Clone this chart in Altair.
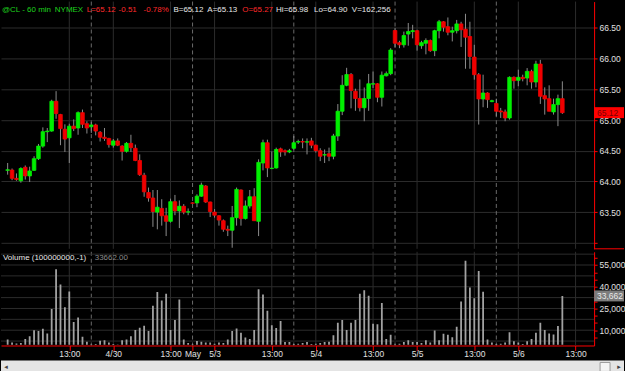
import altair as alt
import pandas as pd

# ---------------- data ----------------
opens = [64.18, 64.185, 64.05, 64.01, 64.23, 64.09, 64.18, 64.37, 64.575, 64.81,
         64.82, 65.305, 65.09, 64.85, 64.71, 64.90, 64.87, 65.12, 64.94, 64.89,
         64.92, 64.80, 64.72, 64.70, 64.59, 64.66, 64.575, 64.49, 64.62, 64.54,
         64.34, 64.10, 63.82, 63.73, 63.50, 63.56, 63.44, 63.35, 63.67, 63.52,
         63.595, 63.50, 63.65, 63.65, 63.76, 63.925, 63.665, 63.50, 63.44, 63.36,
         63.22, 63.205, 63.41, 63.86, 63.395, 63.60, 63.75, 63.35, 64.30, 64.63,
         64.21, 64.22, 64.53, 64.50, 64.48, 64.54, 64.64, 64.65, 64.64, 64.66,
         64.59, 64.50, 64.43, 64.45, 64.41, 64.74, 65.143, 65.565, 65.74, 65.47,
         65.35, 65.20, 65.35, 65.585, 65.59, 65.37, 65.72, 65.755, 66.458, 66.26,
         66.225, 66.40, 66.44, 66.455, 66.21, 66.25, 66.295, 66.13, 66.455, 66.60,
         66.52, 66.43, 66.455, 66.565, 66.479, 66.36, 66.025, 65.738, 65.343, 65.44,
         65.30, 65.27, 65.148, 65.132, 65.034, 65.695, 65.646, 65.695, 65.684, 65.792,
         65.619, 65.911, 65.397, 65.348, 65.132, 65.251, 65.348]
highs = [64.30, 64.21, 64.13, 64.23, 64.26, 64.24, 64.41, 64.61, 64.88, 64.87,
         65.33, 65.47, 65.10, 64.93, 64.94, 65.01, 65.14, 65.17, 64.98, 64.97,
         64.94, 64.82, 64.87, 64.71, 64.69, 64.70, 64.59, 64.64, 64.76, 64.60,
         64.44, 64.14, 63.90, 63.86, 63.86, 63.71, 63.57, 63.72, 63.78, 63.69,
         63.63, 63.56, 63.66, 63.79, 63.98, 63.94, 63.67, 63.55, 63.45, 63.38,
         63.28, 63.60, 63.90, 63.87, 63.69, 63.86, 63.89, 64.36, 64.68, 64.68,
         64.49, 64.55, 64.55, 64.52, 64.53, 64.74, 64.68, 64.70, 64.70, 64.71,
         64.60, 64.54, 64.52, 64.55, 64.775, 65.26, 65.73, 65.85, 65.765, 65.51,
         65.66, 65.53, 65.75, 65.79, 65.60, 65.79, 65.79, 66.17, 66.50, 66.29,
         66.44, 66.58, 66.55, 66.47, 66.29, 66.33, 66.31, 66.47, 66.63, 66.61,
         66.67, 66.52, 66.63, 66.60, 66.73, 66.60, 66.225, 65.765, 65.738, 65.451,
         65.33, 65.348, 65.197, 65.17, 65.71, 65.71, 65.82, 65.738, 65.846, 65.819,
         65.965, 65.98, 65.532, 65.565, 65.348, 65.413, 65.63]
lows = [64.11, 64.02, 64.01, 63.98, 64.03, 63.99, 64.17, 64.35, 64.55, 64.64,
        64.81, 65.02, 64.59, 64.48, 64.30, 64.82, 64.76, 64.87, 64.78, 64.79,
        64.75, 64.65, 64.66, 64.55, 64.55, 64.575, 64.34, 64.47, 64.48, 64.33,
        64.09, 63.75, 63.67, 63.26, 63.22, 63.28, 63.11, 63.33, 63.45, 63.24,
        63.465, 63.45, 63.64, 63.58, 63.75, 63.65, 63.42, 63.41, 63.28, 63.18,
        63.11, 62.92, 63.28, 63.28, 63.38, 63.56, 63.36, 63.11, 64.18, 64.07,
        64.20, 64.21, 64.40, 64.42, 64.46, 64.52, 64.61, 64.54, 64.44, 64.54,
        64.47, 64.33, 64.30, 64.33, 64.36, 64.66, 65.08, 65.55, 65.19, 65.15,
        65.14, 64.98, 65.15, 65.52, 65.29, 65.22, 65.71, 65.73, 66.18, 66.17,
        66.18, 66.21, 66.33, 66.13, 66.16, 66.07, 66.11, 66.04, 66.33, 66.44,
        66.38, 66.28, 66.41, 66.19, 65.835, 65.835, 65.657, 64.926, 65.208, 65.197,
        65.29, 65.061, 65.034, 64.98, 65.007, 65.51, 65.55, 65.63, 65.565, 65.51,
        65.532, 65.262, 65.088, 65.143, 65.088, 64.90, 65.10]
closes = [64.19, 64.05, 64.03, 64.21, 64.09, 64.17, 64.37, 64.575, 64.81, 64.82,
          65.305, 65.105, 64.86, 64.69, 64.90, 64.86, 65.12, 64.93, 64.87, 64.92,
          64.82, 64.72, 64.70, 64.60, 64.66, 64.59, 64.49, 64.62, 64.55, 64.34,
          64.11, 63.83, 63.73, 63.51, 63.58, 63.44, 63.35, 63.67, 63.52, 63.595,
          63.50, 63.505, 63.645, 63.76, 63.94, 63.665, 63.51, 63.45, 63.37, 63.22,
          63.205, 63.41, 63.87, 63.395, 63.60, 63.75, 63.36, 64.31, 64.63, 64.22,
          64.215, 64.52, 64.48, 64.48, 64.50, 64.63, 64.65, 64.64, 64.645, 64.59,
          64.50, 64.41, 64.435, 64.41, 64.74, 65.143, 65.565, 65.74, 65.48, 65.35,
          65.20, 65.35, 65.59, 65.59, 65.37, 65.73, 65.755, 66.14, 66.25, 66.225,
          66.375, 66.44, 66.455, 66.225, 66.26, 66.295, 66.13, 66.455, 66.60, 66.51,
          66.43, 66.455, 66.565, 66.47, 66.349, 66.035, 65.738, 65.343, 65.44, 65.332,
          65.315, 65.143, 65.132, 65.034, 65.695, 65.64, 65.695, 65.673, 65.792, 65.619,
          65.911, 65.386, 65.343, 65.143, 65.251, 65.348, 65.12]
volumes = [3500, 1600, 900, 1200, 4000, 5900, 10000, 9400, 11000, 7700,
           24600, 52000, 41500, 25800, 36800, 15700, 18800, 5400, 2100, 300,
           500, 2800, 3000, 1600, 500, 200, 3000, 3500, 5900, 10100,
           11700, 13100, 9400, 26900, 36300, 30500, 35200, 10100, 17100, 31200,
           3500, 1200, 300, 2600, 2100, 1600, 1600, 700, 1600, 1200,
           3500, 9400, 11200, 8200, 4900, 4000, 10100, 38200, 34700, 23400,
           13400, 11500, 16400, 1900, 1900, 500, 700, 1200, 1900, 500,
           700, 1200, 1900, 2100, 6600, 15200, 17100, 10100, 15200, 17100,
           35200, 37500, 33800, 14500, 14100, 28800, 4000, 6800, 300, 700,
           1900, 3000, 1900, 1900, 1200, 3000, 1600, 9800, 3000, 7500,
           6800, 5200, 12400, 29800, 57900, 39400, 32100, 50800, 36600, 3500,
           1600, 500, 700, 1600, 8600, 2300, 1600, 500, 2300, 4000,
           8200, 15200, 10100, 7700, 7000, 12900, 33662]

price_ticks = [63.0, 63.5, 64.0, 64.5, 65.0, 65.5, 66.0, 66.5]
vol_tick_marks = [5000, 10000, 15000, 20000, 25000, 30000, 35000, 40000,
                  45000, 50000, 55000, 60000]
vol_labels = [10000, 25000, 40000, 55000]
vol_grid = [2500, 10000, 17500, 25000, 32500, 40000, 47500, 55000, 62500]
time_tick_slots = [14, 24, 37, 42, 47, 60, 70, 83, 93, 106, 116, 129]
time_tick_labels = ["13:00", "4/30", "13:00", "May", "5/3", "13:00", "5/4",
                    "13:00", "5/5", "13:00", "5/6", "13:00"]
grid_slots = [14, 24, 37, 47, 60, 70, 83, 93, 106, 116, 129]
session_slots = [19, 42, 65, 88, 111]

header_texts = ["@CL - 60 min", "NYMEX", "L=65.12", "-0.51", "-0.78%", "B=65.12",
                "A=65.13", "O=65.27", "Hi=65.98", "Lo=64.90", "V=162,256"]
header_x = [1, 54, 86, 118, 143, 173, 207, 242, 276, 314, 352]
header_colors = ["#1ed21e", "#1ed21e", "#ff2a2a", "#ff2a2a", "#ff2a2a", "#e8e8e8",
                 "#e8e8e8", "#ff2a2a", "#e8e8e8", "#e8e8e8", "#e8e8e8"]

# ---------------- chart ----------------
FONT = "Liberation Sans"
FS = 8.5
HFS = 8
W = 595
PH = 248
VH = 94
GRID = "#2c2c2c"
RED = "#ff0000"
PDOM = [62.9026, 66.9286]
VDOM = [-550, 64122]

df = pd.DataFrame({
    "slot": list(range(len(opens))),
    "open": opens, "high": highs, "low": lows, "close": closes, "vol": volumes,
})
df["up"] = df["close"] >= df["open"]

xscale = alt.Scale(domain=[-0.38, 132.08], nice=False, zero=False)
pscale = alt.Scale(domain=PDOM, nice=False, zero=False)
vscale = alt.Scale(domain=VDOM, nice=False, zero=False)

grid_df = pd.DataFrame({"slot": grid_slots})
sess_df = pd.DataFrame({"slot": session_slots})
one = pd.DataFrame({"a": [0]})

price_axis = alt.Axis(orient="right", values=price_ticks, title=None,
                      labelExpr="datum.value == 63 ? '' : format(datum.value, '.2f')",
                      domainColor=RED, tickColor=RED, tickSize=3, labelPadding=2,
                      labelColor="#e0e0e0", labelFont=FONT, labelFontSize=FS,
                      labelOverlap=False, labelFlush=False,
                      grid=True, gridColor=GRID, gridWidth=1)

label_expr = " : ".join(
    f"datum.value == {s} ? '{l}'" for s, l in zip(time_tick_slots, time_tick_labels)
) + " : ''"
x_axis = alt.Axis(values=time_tick_slots, labelExpr=label_expr, title=None,
                  domainColor=RED, tickColor=RED, tickSize=5,
                  labelColor="#e0e0e0", labelFont=FONT, labelFontSize=FS,
                  labelBaseline="alphabetic", labelPadding=6, grid=False,
                  labelFlush=False, labelOverlap=False)
vol_label_list = ",".join(str(v) for v in vol_labels)
vol_axis = alt.Axis(orient="right", values=vol_tick_marks, title=None,
                    labelExpr=f"indexof([{vol_label_list}], datum.value) >= 0 ? format(datum.value, ',') : ''",
                    domainColor=RED, tickColor=RED, tickSize=3, labelPadding=2,
                    labelColor="#e0e0e0", labelFont=FONT, labelFontSize=FS,
                    labelOverlap=False, labelFlush=False, grid=False)


def vgrid(axis):
    g = alt.Chart(grid_df).mark_rule(color=GRID, strokeWidth=1).encode(
        x=alt.X("slot:Q", scale=xscale, axis=axis))
    s = alt.Chart(sess_df).mark_rule(color="#6a6a6a", strokeWidth=1,
                                     strokeDash=[4, 3]).encode(
        x=alt.X("slot:Q", scale=xscale, axis=axis))
    return g, s


def texts(labels, xs, ys, colors, size, align="left"):
    return [alt.Chart(one).mark_text(text=t, align=align, baseline="alphabetic",
                                     font=FONT, fontSize=size, color=c).encode(
        x=alt.value(px), y=alt.value(py))
        for t, px, py, c in zip(labels, xs, ys, colors)]


# ----- price panel -----
pg, ps = vgrid(None)
wicks = alt.Chart(df).mark_rule(color="#8c8c8c", strokeWidth=1, clip=True).encode(
    x=alt.X("slot:Q", scale=xscale, axis=None),
    y=alt.Y("low:Q", scale=pscale, axis=price_axis),
    y2="high:Q",
)
ud_scale = alt.Scale(domain=[True, False], range=["#00f000", "#f00000"])
bodies = alt.Chart(df).mark_bar(size=3.6, strokeWidth=0.8, clip=True).encode(
    x=alt.X("slot:Q", scale=xscale, axis=None),
    y=alt.Y("open:Q", scale=pscale, axis=price_axis),
    y2="close:Q",
    color=alt.Color("up:N", scale=ud_scale, legend=None),
    stroke=alt.Stroke("up:N", scale=ud_scale, legend=None),
)
header = texts(header_texts, header_x, [10] * len(header_texts), header_colors, HFS)

last_close = closes[-1]
box_half = 5.5 * (PDOM[1] - PDOM[0]) / PH
lp_df = pd.DataFrame({"p": [last_close], "top": [last_close + box_half],
                      "bot": [last_close - box_half],
                      "t": [format(last_close, ".2f")]})
lp_box = alt.Chart(lp_df).mark_rect(color="#ff0000").encode(
    x=alt.value(W), x2=alt.value(625),
    y=alt.Y("top:Q", scale=pscale, axis=price_axis), y2="bot:Q")
lp_txt = alt.Chart(lp_df).mark_text(align="left", baseline="middle", font=FONT,
                                    fontSize=FS, color="#7a0000").encode(
    x=alt.value(W + 3), y=alt.Y("p:Q", scale=pscale, axis=price_axis), text="t:N")
sep = alt.Chart(one).mark_rule(color=RED).encode(
    x=alt.value(W), x2=alt.value(625), y=alt.value(PH))

price = alt.layer(pg, ps, wicks, bodies, *header, lp_box, lp_txt, sep).properties(
    width=W, height=PH)

# ----- volume panel -----
vg, vs = vgrid(x_axis)
hgrid = alt.Chart(pd.DataFrame({"v": vol_grid})).mark_rule(
    color=GRID, strokeWidth=1).encode(
    y=alt.Y("v:Q", scale=vscale, axis=vol_axis))
vbars = alt.Chart(df).mark_bar(size=1.8, color="#a2a2a2", clip=True).encode(
    x=alt.X("slot:Q", scale=xscale, axis=x_axis),
    y=alt.Y("vol:Q", scale=vscale, axis=vol_axis),
    y2=alt.datum(0),
)
vtitle = texts(["Volume (100000000,-1)", "33662.00"], [2, 94], [8, 8],
               ["#e8e8e8", "#8c8c8c"], HFS)

last_vol = volumes[-1]
vbox_half = 5.5 * (VDOM[1] - VDOM[0]) / VH
lv_df = pd.DataFrame({"v": [last_vol], "top": [last_vol + vbox_half],
                      "bot": [last_vol - vbox_half], "t": [format(last_vol, ",")]})
lv_box = alt.Chart(lv_df).mark_rect(color="#7c7c7c").encode(
    x=alt.value(W), x2=alt.value(625),
    y=alt.Y("top:Q", scale=vscale, axis=vol_axis), y2="bot:Q")
lv_txt = alt.Chart(lv_df).mark_text(align="left", baseline="middle", font=FONT,
                                    fontSize=FS, color="#e8e8e8").encode(
    x=alt.value(W + 3), y=alt.Y("v:Q", scale=vscale, axis=vol_axis), text="t:N")

# scrollbar strip at the very bottom
sb = alt.Chart(one).mark_rect(color="#e4e4e4").encode(
    x=alt.value(0), x2=alt.value(625), y=alt.value(VH + 15), y2=alt.value(VH + 28))
sb_thumb = alt.Chart(one).mark_rect(color="#f4f4f4", stroke="#9a9a9a",
                                    strokeWidth=1).encode(
    x=alt.value(601), x2=alt.value(611), y=alt.value(VH + 17), y2=alt.value(VH + 26))
sb_arrows = [alt.Chart(one).mark_text(text=t, baseline="middle", fontSize=7,
                                      color="#404040", font="DejaVu Sans").encode(
    x=alt.value(px), y=alt.value(VH + 21.5)) for t, px in [("◂", 5), ("▸", 620)]]

volume = alt.layer(vg, vs, hgrid, vbars, *vtitle, lv_box, lv_txt, sb, sb_thumb,
                   *sb_arrows).properties(width=W, height=VH)

chart = alt.vconcat(price, volume, spacing=1).properties(
    background="#000000", padding=0
).configure_view(stroke=None).resolve_scale(color="independent",
                                            stroke="independent")

chart.save("out.html", embed_options={"renderer": "svg", "actions": False})
